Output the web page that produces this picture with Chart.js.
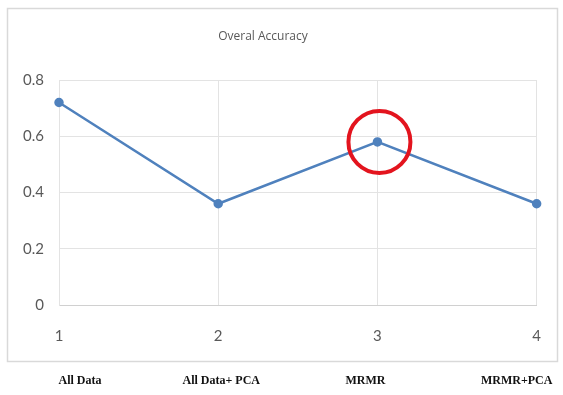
<!DOCTYPE html>
<html>
<head>
<meta charset="utf-8">
<script src="https://cdn.jsdelivr.net/npm/chart.js@4/dist/chart.umd.min.js"></script>
<style>
  html, body { margin: 0; padding: 0; background: #fff; }
  #wrap { width: 563px; height: 395px; position: relative; }
</style>
</head>
<body>
<div id="wrap"><canvas id="c" width="563" height="395"></canvas></div>
<script>
// Overall accuracy per feature-set configuration
const runs = ['1', '2', '3', '4'];
const accuracy = [0.72, 0.36, 0.58, 0.36];
const methodNames = ['All Data', 'All Data+ PCA', 'MRMR', 'MRMR+PCA'];
const yTicks = [0, 0.2, 0.4, 0.6, 0.8];
const chartTitle = 'Overal Accuracy';
const highlightIndex = 2;

const decorations = {
  id: 'decorations',
  beforeDraw(chart) {
    const ctx = chart.ctx;
    ctx.save();
    ctx.fillStyle = '#ffffff';
    ctx.fillRect(0, 0, chart.width, chart.height);
    // outer frame
    ctx.strokeStyle = '#d9d9d9';
    ctx.lineWidth = 1.5;
    ctx.strokeRect(7.5, 8.5, 550, 353);
    // title
    ctx.fillStyle = '#595959';
    ctx.font = '12px "Open Sans", sans-serif';
    ctx.textAlign = 'center';
    ctx.textBaseline = 'middle';
    ctx.fillText(chartTitle, 263, 37);
    ctx.restore();
  },
  afterDraw(chart) {
    const ctx = chart.ctx;
    const xs = chart.scales.x;
    const ys = chart.scales.y;
    ctx.save();
    // highlight ring around the selected point
    const cx = xs.getPixelForValue(highlightIndex);
    const cy = ys.getPixelForValue(accuracy[highlightIndex]);
    ctx.strokeStyle = '#e3141e';
    ctx.lineWidth = 4;
    ctx.beginPath();
    ctx.arc(cx + 2, cy, 31, 0, Math.PI * 2);
    ctx.stroke();
    // method names under the frame
    ctx.fillStyle = '#111';
    ctx.font = 'bold 12px "Liberation Serif", "DejaVu Serif", serif';
    ctx.textBaseline = 'middle';
    ctx.textAlign = 'center';
    const shifts = [21, 3, -12, -20];
    methodNames.forEach((name, i) => {
      ctx.fillText(name, xs.getPixelForValue(i) + shifts[i], 381);
    });
    ctx.restore();
  }
};

new Chart(document.getElementById('c'), {
  type: 'line',
  data: {
    labels: runs,
    datasets: [{
      data: accuracy,
      borderColor: '#4f81bd',
      backgroundColor: '#4f81bd',
      borderWidth: 2.5,
      pointRadius: 3.5,
      pointHoverRadius: 3.5,
      tension: 0,
      fill: false
    }]
  },
  options: {
    responsive: false,
    animation: false,
    events: [],
    layout: { padding: { left: 0, top: 80, right: 24, bottom: 0 } },
    plugins: { legend: { display: false }, tooltip: { enabled: false }, title: { display: false } },
    scales: {
      x: {
        type: 'category',
        offset: false,
        grid: { color: '#e3e3e3', lineWidth: 1, drawTicks: false },
        border: { display: true, color: '#d0d0d0' },
        ticks: {
          color: '#595959',
          font: { family: 'Lato, "Open Sans", sans-serif', size: 15 },
          padding: 22,
          maxRotation: 0
        },
        afterFit(scale) { scale.height = 90; }
      },
      y: {
        min: 0,
        max: 0.8,
        afterBuildTicks(scale) { scale.ticks = yTicks.map(v => ({ value: v })); },
        grid: { color: '#e3e3e3', lineWidth: 1, drawTicks: false },
        border: { display: true, color: '#e3e3e3' },
        ticks: {
          color: '#595959',
          font: { family: 'Lato, "Open Sans", sans-serif', size: 15 },
          padding: 15,
          callback: v => String(v)
        },
        afterFit(scale) { scale.width = 59; }
      }
    }
  },
  plugins: [decorations]
});
</script>
</body>
</html>
